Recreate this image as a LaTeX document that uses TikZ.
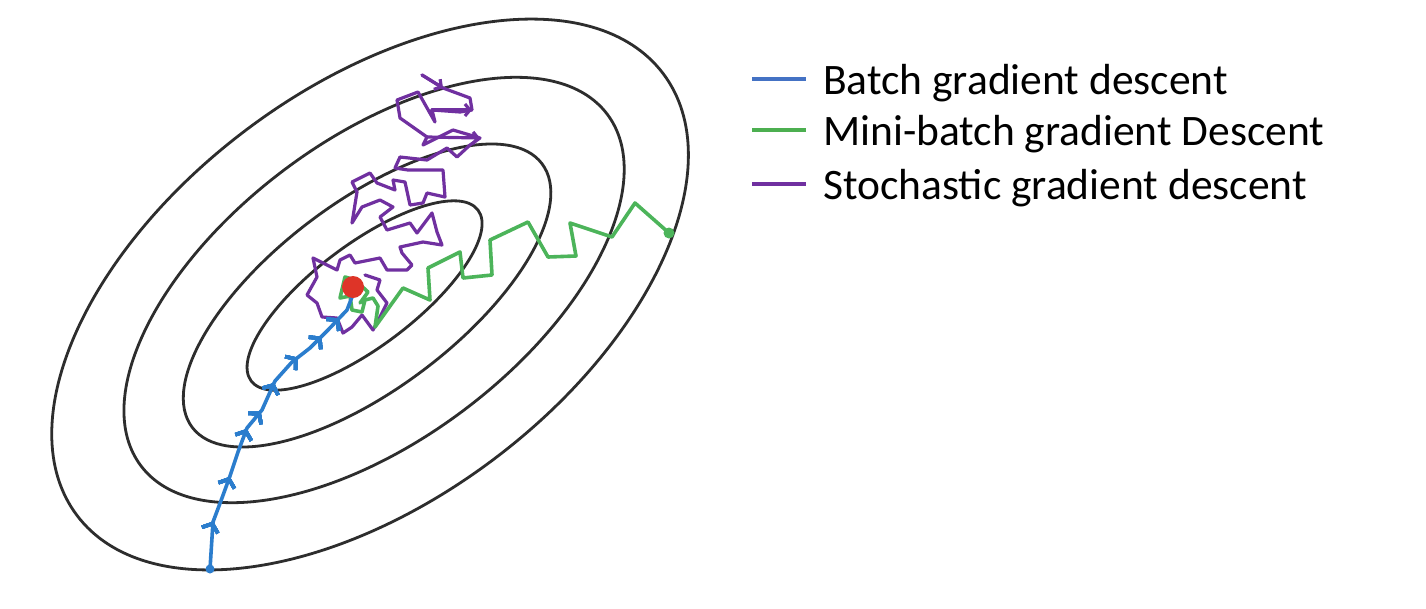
\documentclass[tikz,border=0pt]{standalone}
\usepackage{fontspec}
\setmainfont{Carlito}
\usetikzlibrary{arrows.meta,decorations.markings}
\definecolor{ellc}{RGB}{45,45,45}
\definecolor{bluep}{RGB}{43,125,205}
\definecolor{bluel}{RGB}{68,114,196}
\definecolor{greenp}{RGB}{76,180,90}
\definecolor{greenl}{RGB}{76,175,80}
\definecolor{purp}{RGB}{112,48,160}
\definecolor{redd}{RGB}{222,52,40}
\begin{document}
\begin{tikzpicture}[x=1pt,y=-1pt,
  contour/.style={draw=ellc,line width=2.8pt},
  bgd/.style={draw=bluep,line width=3.6pt,line join=round,line cap=round},
  mbgd/.style={draw=greenp,line width=3.6pt,line join=round,line cap=round},
  sgd/.style={draw=purp,line width=3.2pt,line join=round,line cap=round},
  barb/.style={decoration={markings,mark=at position #1 with {\arrow{Straight Barb[length=7pt,width=17pt]}}},postaction={decorate}},
  legline/.style={line width=4.5pt},
  legtext/.style={anchor=base west,inner sep=0pt,font=\fontsize{43.5}{50}\selectfont}]
\useasboundingbox (0,0) rectangle (1426,608);
\fill[white] (0,0) rectangle (1426,608);
% contours
\coordinate (c1) at (370,294.5);
\coordinate (c2) at (374,290);
\coordinate (c3) at (367,295.5);
\coordinate (c4) at (364.5,295.5);
\draw[contour,rotate around={37:(c1)}] (c1) ellipse [x radius=367,y radius=206];
\draw[contour,rotate around={37:(c2)}] (c2) ellipse [x radius=292,y radius=150];
\draw[contour,rotate around={37:(c3)}] (c3) ellipse [x radius=219,y radius=93.5];
\draw[contour,rotate around={37:(c4)}] (c4) ellipse [x radius=142,y radius=51];
% stochastic
\draw[sgd] (422,75) -- (443,88) -- (470,98) -- (472,110) -- (460,112) -- (432,110) -- (435,122) -- (418,92) -- (397,100) -- (400,118) -- (427,137) -- (423,145) -- (453,130) -- (480,138) -- (470,145) -- (457,157) -- (447,148) -- (427,160) -- (400,157) -- (395,168) -- (408,170) -- (443,170) -- (445,197) -- (427,193) -- (423,203) -- (410,205) -- (405,182) -- (393,180) -- (395,190) -- (377,183) -- (370,173) -- (352,182) -- (357,192) -- (352,223) -- (362,207) -- (380,200) -- (393,207) -- (380,217) -- (387,230) -- (410,223) -- (417,233) -- (432,213) -- (437,232) -- (442,245) -- (423,242) -- (400,247) -- (402,253) -- (412,265) -- (407,270) -- (387,270) -- (380,258) -- (355,263) -- (350,255) -- (340,260) -- (337,270) -- (313,258) -- (317,277) -- (307,295) -- (317,303) -- (322,317) -- (337,318) -- (343,333) -- (352,327) -- (362,315) -- (373,330) -- (380,317) -- (387,303) -- (377,290) -- (380,280) -- (365,275);
\draw[sgd,-{Straight Barb[length=5pt,width=12pt]}] (432,110) -- (472,110);
\draw[sgd,-{Straight Barb[length=5pt,width=12pt]}] (427,137) -- (480,138);
\draw[sgd,-{Straight Barb[length=5pt,width=12pt]}] (422,75) -- (443,88);
% mini-batch
\coordinate (gend) at (669,233);
\draw[mbgd] (gend) -- (635,203) -- (612,237) -- (570,223) -- (576,256) -- (548,257) -- (528,222) -- (490,240) -- (492,275) -- (463,278) -- (460,252) -- (428,268) -- (430,300) -- (403,288) -- (375,327) -- (378,306) -- (373,298) -- (365,300) -- (362,312) -- (352,310) -- (350,296) -- (340,298) -- (345,277) -- (355,280) -- (368,292) -- (360,303);
\fill[greenp] (gend) circle (5.5);
% batch
\coordinate (bstart) at (210,569);
\draw[bgd,barb=0.15,barb=0.30,barb=0.46,barb=0.53,barb=0.63,barb=0.74,barb=0.84,barb=0.92]
  (bstart) -- (213,522) -- (222,498) -- (230,476) -- (238,452) -- (247,428) -- (262,410) -- (275,381) -- (292,362) -- (310,348) -- (328,330) -- (347,310) -- (352,297);
\fill[bluep] (bstart) circle (4.5);
% minimum
\node[circle,fill=redd,inner sep=0pt,minimum size=22pt] (min) at (353,287) {};
% legend
\coordinate (l1a) at (752,79); \coordinate (l1b) at (806,79);
\coordinate (l2a) at (752,130); \coordinate (l2b) at (806,130);
\coordinate (l3a) at (752,184); \coordinate (l3b) at (806,184);
\draw[legline,bluel] (l1a) -- (l1b);
\draw[legline,greenl] (l2a) -- (l2b);
\draw[legline,purp] (l3a) -- (l3b);
\node[legtext] (t1) at (823,94) {Batch gradient descent};
\node[legtext] (t2) at (823,145) {Mini-batch gradient Descent};
\node[legtext] (t3) at (823,199) {Stochastic gradient descent};
\end{tikzpicture}
\end{document}
